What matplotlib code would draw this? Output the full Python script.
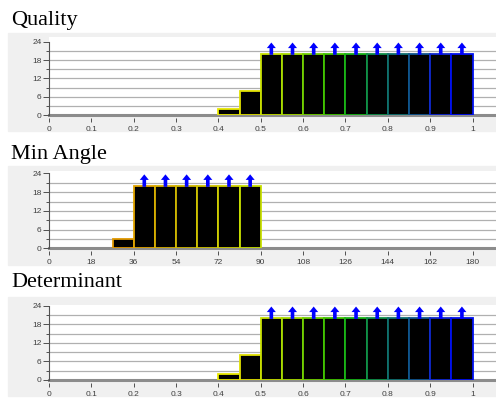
import numpy as np
import matplotlib
matplotlib.use("Agg")
import matplotlib.pyplot as plt
from matplotlib.patches import Rectangle

W, H = 496, 398

# histogram data
quality_left = [0.40, 0.45, 0.50, 0.55, 0.60, 0.65, 0.70, 0.75, 0.80, 0.85, 0.90, 0.95]
quality_counts = [2, 8, 20, 20, 20, 20, 20, 20, 20, 20, 20, 20]
quality_over = [False, False, True, True, True, True, True, True, True, True, True, True]
quality_colors = ["#e8e800", "#e0e000", "#c8e000", "#a8dc00", "#70d000", "#40c400",
                  "#18b418", "#10904a", "#107070", "#105590", "#1028d0", "#0010f0"]

angle_left = [27, 36, 45, 54, 63, 72, 81]
angle_counts = [3, 20, 20, 20, 20, 20, 20]
angle_over = [False, True, True, True, True, True, True]
angle_colors = ["#e09800", "#e0a400", "#d8b000", "#d0b800", "#d0c400", "#d0d000", "#c8e000"]

det_left = [0.40, 0.45, 0.50, 0.55, 0.60, 0.65, 0.70, 0.75, 0.80, 0.85, 0.90, 0.95]
det_counts = [2, 8, 20, 20, 20, 20, 20, 20, 20, 20, 20, 20]
det_over = [False, False, True, True, True, True, True, True, True, True, True, True]

quality_ticks = [0, 0.1, 0.2, 0.3, 0.4, 0.5, 0.6, 0.7, 0.8, 0.9, 1]
quality_labels = ["0", "0.1", "0.2", "0.3", "0.4", "0.5", "0.6", "0.7", "0.8", "0.9", "1"]
angle_ticks = [0, 18, 36, 54, 72, 90, 108, 126, 144, 162, 180]

fig = plt.figure(figsize=(W / 100, H / 100), dpi=100)
fig.patch.set_facecolor("white")


def panel(title, title_y, gray_top, gray_bot, ax_top, ax_bot, scale, xmax,
          left, counts, width, over, colors, ticks, labels):
    fig.patches.append(Rectangle((8 / W, 1 - gray_bot / H), 488 / W, (gray_bot - gray_top) / H,
                                 transform=fig.transFigure, color="#f0f0f0", zorder=-5))
    fig.text(11 / W, 1 - title_y / H, title, family="Liberation Serif", fontsize=16,
             va="baseline", ha="left")
    ax = fig.add_axes([49 / W, 1 - ax_bot / H, (W - 49) / W, (ax_bot - ax_top) / H])
    ax.set_facecolor("white")
    xlim = xmax * (W - 49) / 423.5
    ax.set_xlim(0, xlim)
    ax.set_ylim(0, (ax_bot - ax_top) / scale)

    ax.hlines([3, 6, 9, 12, 15, 18, 21], 0, xlim, color="#b0b0b0", lw=0.9, zorder=1)
    ax.axhline(0, color="#8c8c8c", lw=2.2, zorder=1, clip_on=False)

    ax.bar(left, counts, width=width, align="edge", color="black",
           edgecolor=colors, linewidth=1.3, zorder=3)
    for x, c, o in zip(left, counts, over):
        if o:
            ax.annotate("", xy=(x + width / 2, c + 3.7), xytext=(x + width / 2, c - 0.3),
                        arrowprops=dict(width=2.6, headwidth=6.5, headlength=4,
                                        shrink=0, color="#0000ff", lw=0),
                        zorder=4, annotation_clip=False)

    for s in ["top", "right"]:
        ax.spines[s].set_visible(False)
    ax.spines["left"].set_bounds(0, 24)
    ax.spines["left"].set_color("#505050")
    ax.spines["left"].set_linewidth(0.8)
    ax.spines["bottom"].set_position(("outward", 2))
    ax.spines["bottom"].set_visible(False)

    ax.set_yticks([0, 6, 12, 18, 24])
    ax.set_yticks([3, 9, 15, 21], minor=True)
    ax.set_xticks(ticks)
    ax.set_xticklabels(labels)
    ax.tick_params(axis="y", which="major", length=4, width=0.7, color="#505050",
                   labelsize=6, labelcolor="#404040", pad=1.5)
    ax.tick_params(axis="y", which="minor", length=2, width=0.7, color="#505050")
    ax.tick_params(axis="x", length=3, width=0.7, color="#505050",
                   labelsize=6, labelcolor="#404040", pad=3)
    for t in ax.get_xticklabels() + ax.get_yticklabels():
        t.set_family("Liberation Sans")
    return ax


panel("Quality", 25, 33, 131, 37, 115.3, 3.07, 1,
      quality_left, quality_counts, 0.05, quality_over, quality_colors,
      quality_ticks, quality_labels)
panel("Min Angle", 159, 166, 265, 171, 248.3, 3.12, 180,
      angle_left, angle_counts, 9, angle_over, angle_colors,
      angle_ticks, [str(a) for a in angle_ticks])
panel("Determinant", 287, 297, 396, 305, 380, 3.1, 1,
      det_left, det_counts, 0.05, det_over, quality_colors,
      quality_ticks, quality_labels)

fig.savefig("out.png", dpi=100)
